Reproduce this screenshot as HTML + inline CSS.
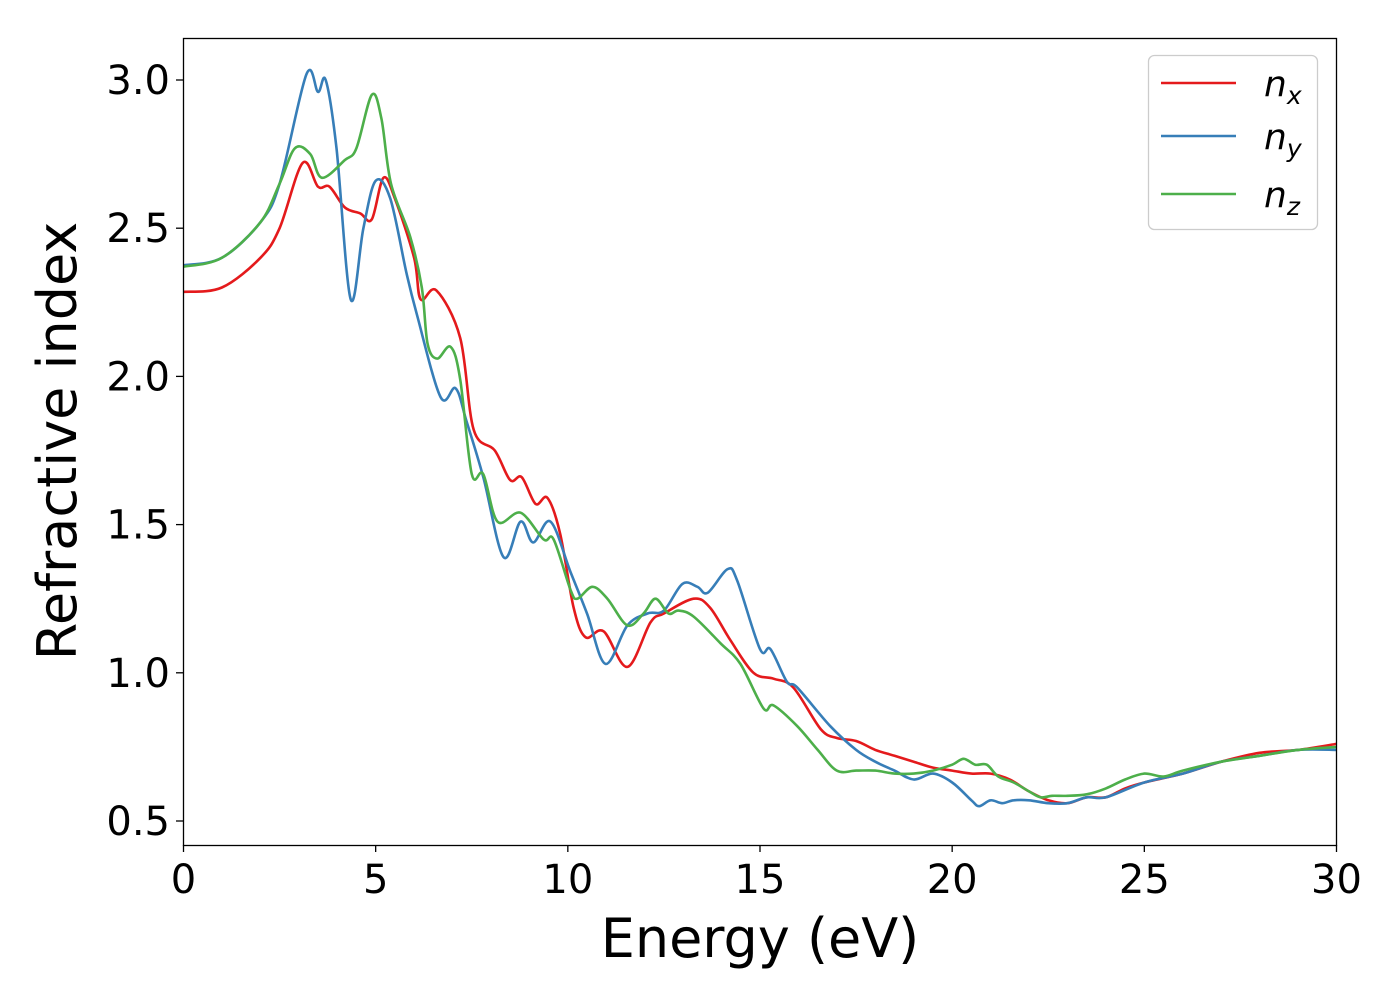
<!DOCTYPE html>
<html><head><meta charset="utf-8"><style>
html,body{margin:0;padding:0;background:#fff;}
svg{display:block;font-family:"DejaVu Sans","Liberation Sans",sans-serif;}
</style></head><body>
<svg id="chart" width="1400" height="1000" viewBox="0 0 1400 1000">
<rect x="0" y="0" width="1400" height="1000" fill="#fff"/>
<g id="series"></g>
<rect x="183.5" y="38.5" width="1153" height="807" fill="none" stroke="#000" stroke-width="1.3"/>
<g id="xticks"></g>
<g id="yticks"></g>
<text x="760" y="957" font-size="54" text-anchor="middle">Energy (eV)</text>
<text x="0" y="0" font-size="54" text-anchor="middle" transform="translate(76,441) rotate(-90)">Refractive index</text>
<g>
<rect x="1148.5" y="55.5" width="169" height="174" rx="6" fill="#fff" stroke="#ccc" stroke-width="1.3"/>
<line x1="1161" y1="83" x2="1236" y2="83" stroke="#e41a1c" stroke-width="2.6"/>
<line x1="1161" y1="136" x2="1236" y2="136" stroke="#377eb8" stroke-width="2.6"/>
<line x1="1161" y1="194" x2="1236" y2="194" stroke="#4daf4a" stroke-width="2.6"/>
<text x="1264" y="96" font-size="36" font-style="italic">n<tspan font-size="25" dy="8">x</tspan></text>
<text x="1264" y="149" font-size="36" font-style="italic">n<tspan font-size="25" dy="8">y</tspan></text>
<text x="1264" y="207" font-size="36" font-style="italic">n<tspan font-size="25" dy="8">z</tspan></text>
</g>
</svg>
<script>
const xTicks=[0,5,10,15,20,25,30];
const yTicks=[0.5,1.0,1.5,2.0,2.5,3.0];
const yTickLabels=["0.5","1.0","1.5","2.0","2.5","3.0"];
const seriesNames=["nx","ny","nz"];
const nxE=[0,1,2,2.5,3.1,3.5,3.8,4.2,4.6,4.9,5.2,5.5,6.0,6.17,6.58,7.2,7.55,8.1,8.5,8.8,9.16,9.47,9.8,10.15,10.46,10.93,11.55,12.15,12.5,13.27,13.7,14.23,14.83,15.35,15.87,16.58,17,17.5,18,18.5,19,19.5,20,20.5,21,21.5,22,22.5,23,23.5,24,24.5,25,26,27,28,29,30];
const nxV=[2.285,2.3,2.4,2.5,2.72,2.64,2.64,2.57,2.55,2.53,2.67,2.6,2.4,2.26,2.29,2.13,1.82,1.75,1.65,1.66,1.57,1.59,1.47,1.22,1.12,1.14,1.02,1.17,1.2,1.25,1.22,1.11,1.0,0.98,0.95,0.81,0.78,0.77,0.74,0.72,0.7,0.68,0.67,0.66,0.66,0.64,0.6,0.57,0.56,0.58,0.58,0.61,0.63,0.66,0.7,0.73,0.74,0.76];
const nyE=[0,1,2,2.5,3.2,3.5,3.7,3.98,4.35,4.68,5.0,5.38,5.8,6.07,6.69,7.08,7.36,7.8,8.33,8.77,9.1,9.55,10.07,10.5,10.98,11.55,12.07,12.5,12.98,13.37,13.64,14.16,14.41,15.0,15.27,15.7,15.97,16.83,17.5,18,18.5,19,19.5,20,20.5,20.7,21,21.3,21.6,22,22.5,23,23.5,24,25,26,27,28,29,30];
const nyV=[2.375,2.4,2.52,2.65,3.02,2.96,3.0,2.77,2.26,2.5,2.66,2.6,2.35,2.21,1.93,1.96,1.85,1.66,1.39,1.51,1.44,1.51,1.34,1.2,1.03,1.16,1.2,1.21,1.3,1.29,1.27,1.35,1.31,1.08,1.08,0.97,0.95,0.82,0.74,0.7,0.67,0.64,0.66,0.63,0.57,0.55,0.57,0.56,0.57,0.57,0.56,0.56,0.58,0.58,0.63,0.66,0.7,0.72,0.74,0.74];
const nzE=[0,1,2,2.5,2.9,3.3,3.6,4.2,4.5,4.9,5.15,5.4,5.9,6.2,6.35,6.6,6.95,7.2,7.5,7.8,8.17,8.77,9.37,9.63,10.07,10.25,10.64,11.03,11.55,11.97,12.28,12.62,12.88,13.27,13.97,14.49,15.09,15.35,15.97,16.5,17,17.5,18,18.5,19,19.5,20,20.3,20.6,20.9,21.2,21.6,22,22.3,22.6,23,23.5,24,24.5,25,25.5,26,27,28,29,30];
const nzV=[2.37,2.4,2.52,2.65,2.77,2.75,2.67,2.73,2.77,2.95,2.87,2.65,2.47,2.3,2.11,2.06,2.1,1.99,1.67,1.67,1.51,1.54,1.45,1.45,1.28,1.25,1.29,1.25,1.16,1.2,1.25,1.2,1.21,1.19,1.1,1.03,0.88,0.89,0.82,0.74,0.67,0.67,0.67,0.66,0.66,0.67,0.69,0.71,0.69,0.69,0.65,0.63,0.6,0.58,0.585,0.585,0.59,0.61,0.64,0.66,0.65,0.67,0.7,0.72,0.74,0.75];
const colors=["#e41a1c","#377eb8","#4daf4a"];
const X0=183.5,X1=1336.5,XMIN=0,XMAX=30;
const xScale=v=>X0+(v-XMIN)/(XMAX-XMIN)*(X1-X0);
const yScale=v=>821-(v-0.5)/2.5*741;
const NS="http://www.w3.org/2000/svg";
function mk(t,a){const e=document.createElementNS(NS,t);for(const k in a)e.setAttribute(k,a[k]);return e;}
function pathFrom(E,V){
  const p=E.map((e,i)=>[xScale(e),yScale(V[i])]);
  let d="M"+p[0][0].toFixed(1)+","+p[0][1].toFixed(1);
  for(let i=0;i<p.length-1;i++){
    const p0=p[Math.max(0,i-1)],p1=p[i],p2=p[i+1],p3=p[Math.min(p.length-1,i+2)];
    const c1=[p1[0]+(p2[0]-p0[0])/6,p1[1]+(p2[1]-p0[1])/6];
    const c2=[p2[0]-(p3[0]-p1[0])/6,p2[1]-(p3[1]-p1[1])/6];
    d+=" C"+c1[0].toFixed(1)+","+c1[1].toFixed(1)+" "+c2[0].toFixed(1)+","+c2[1].toFixed(1)+" "+p2[0].toFixed(1)+","+p2[1].toFixed(1);
  }
  return d;
}
const sg=document.getElementById("series");
const data=[[nxE,nxV],[nyE,nyV],[nzE,nzV]];
data.forEach((s,i)=>{
  const el=mk("path",{d:pathFrom(s[0],s[1]),fill:"none",stroke:colors[i],"stroke-width":"2.6","stroke-linejoin":"round"});
  
  
  sg.appendChild(el);
});
const xg=document.getElementById("xticks");
xTicks.forEach(t=>{
  const x=xScale(t);
  const l=mk("line",{x1:x,y1:845,x2:x,y2:852,stroke:"#000","stroke-width":"1.3"});
  
  
  xg.appendChild(l);
  const tx=mk("text",{x:x,y:893,"font-size":"40","text-anchor":"middle"});
  tx.textContent=String(t);
  
  
  xg.appendChild(tx);
});
const yg=document.getElementById("yticks");
yTicks.forEach((t,i)=>{
  const y=yScale(t);
  const l=mk("line",{x1:176,y1:y,x2:183.5,y2:y,stroke:"#000","stroke-width":"1.3"});
  
  
  yg.appendChild(l);
  const tx=mk("text",{x:170,y:y+14,"font-size":"40","text-anchor":"end"});
  tx.textContent=yTickLabels[i];
  
  
  yg.appendChild(tx);
});
</script>
</body></html>
